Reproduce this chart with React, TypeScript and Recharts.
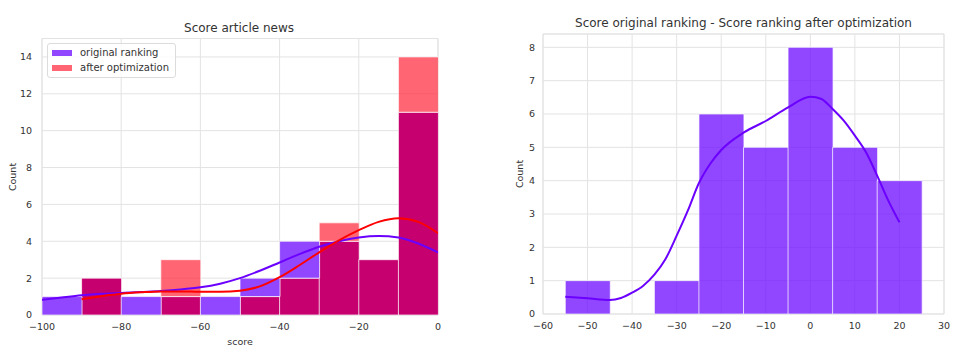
import { Bar, CartesianGrid, ComposedChart, Line, ReferenceArea, XAxis, YAxis } from "recharts"

// left chart: score histogram, bins of width 10
const leftBinStarts = [-100, -90, -80, -70, -60, -50, -40, -30, -20, -10]
const originalCounts = [1, 2, 1, 1, 1, 2, 4, 4, 3, 11]
const afterCounts = [0, 2, 0, 3, 0, 1, 2, 5, 3, 14]
const leftTicksX = [-100, -80, -60, -40, -20, 0]
const leftTicksY = [0, 2, 4, 6, 8, 10, 12, 14]

// kde curves
const originalKde = [
  { x: -100, y: 0.82 }, { x: -95, y: 0.95 }, { x: -90, y: 1.07 }, { x: -85, y: 1.15 },
  { x: -80, y: 1.2 }, { x: -75, y: 1.25 }, { x: -70, y: 1.3 }, { x: -65, y: 1.38 },
  { x: -60, y: 1.5 }, { x: -55, y: 1.7 }, { x: -50, y: 2.0 }, { x: -45, y: 2.4 },
  { x: -40, y: 2.85 }, { x: -35, y: 3.3 }, { x: -30, y: 3.7 }, { x: -25, y: 4.0 },
  { x: -20, y: 4.2 }, { x: -15, y: 4.28 }, { x: -10, y: 4.2 }, { x: -5, y: 3.88 },
  { x: 0, y: 3.4 },
]
const afterKde = [
  { x: -90, y: 0.86 }, { x: -85, y: 1.02 }, { x: -80, y: 1.15 }, { x: -75, y: 1.23 },
  { x: -70, y: 1.28 }, { x: -65, y: 1.28 }, { x: -60, y: 1.26 }, { x: -55, y: 1.26 },
  { x: -50, y: 1.32 }, { x: -45, y: 1.55 }, { x: -40, y: 2.05 }, { x: -35, y: 2.7 },
  { x: -30, y: 3.4 }, { x: -25, y: 4.05 }, { x: -20, y: 4.6 }, { x: -15, y: 5.05 },
  { x: -10, y: 5.25 }, { x: -5, y: 5.05 }, { x: 0, y: 4.44 },
]

// right chart: difference histogram
const rightBinStarts = [-55, -45, -35, -25, -15, -5, 5, 15]
const diffCounts = [1, 0, 1, 6, 5, 8, 5, 4]
const rightTicksX = [-60, -50, -40, -30, -20, -10, 0, 10, 20, 30]
const rightTicksY = [0, 1, 2, 3, 4, 5, 6, 7, 8]
const diffKde = [
  { x: -55, y: 0.52 }, { x: -50, y: 0.47 }, { x: -45, y: 0.42 }, { x: -42.5, y: 0.48 },
  { x: -40, y: 0.64 }, { x: -37.5, y: 0.85 }, { x: -35, y: 1.18 }, { x: -32.5, y: 1.65 },
  { x: -30, y: 2.35 }, { x: -27.5, y: 3.1 }, { x: -25, y: 3.93 }, { x: -22.5, y: 4.5 },
  { x: -20, y: 4.92 }, { x: -15, y: 5.44 }, { x: -10, y: 5.79 }, { x: -5, y: 6.2 },
  { x: 0, y: 6.52 }, { x: 2.5, y: 6.45 }, { x: 5, y: 6.15 }, { x: 7.5, y: 5.8 },
  { x: 10, y: 5.35 }, { x: 12.5, y: 4.85 }, { x: 15, y: 4.15 }, { x: 17.5, y: 3.4 },
  { x: 20, y: 2.75 },
]

const FONT = "'DejaVu Sans', sans-serif"
const TEXT = "#333333"
const GRID = "#e3e3e3"
const PURPLE = "#6c0aff"
const RED = "#ff2437"
const OVERLAP = "#c6006f"

const minus = (v: number) => String(v).replace("-", "\u2212")
const tickStyle = { fontSize: 9.5, fill: TEXT, fontFamily: FONT }

const leftData = leftBinStarts.map((start, i) => ({
  bin: start,
  shared: Math.min(originalCounts[i], afterCounts[i]),
  origOnly: Math.max(0, originalCounts[i] - afterCounts[i]),
  afterOnly: Math.max(0, afterCounts[i] - originalCounts[i]),
}))

const rightData = rightBinStarts.map((start, i) => ({ bin: start, count: diffCounts[i] }))

function LegendBox() {
  const rows = [
    { label: "original ranking", color: PURPLE, opacity: 0.75 },
    { label: "after optimization", color: RED, opacity: 0.7 },
  ]
  return (
    <div style={{
      position: "absolute", left: 47, top: 43,
      border: "1px solid #dcdcdc", borderRadius: 3, background: "rgba(255,255,255,0.8)",
      padding: "2px 6px 2px 4px", fontFamily: FONT, fontSize: 10, color: TEXT, lineHeight: "14.5px",
    }}>
      {rows.map(r => (
        <div key={r.label} style={{ display: "flex", alignItems: "center", whiteSpace: "nowrap" }}>
          <span style={{ display: "inline-block", width: 20, height: 6, background: r.color, opacity: r.opacity, marginRight: 8 }} />
          {r.label}
        </div>
      ))}
    </div>
  )
}

const label = (text: string, left: number, top: number, size: number, rotate = false) => (
  <div style={{
    position: "absolute", left, top, fontFamily: FONT, fontSize: size, color: TEXT, whiteSpace: "nowrap",
    transform: `translate(-50%, -50%)${rotate ? " rotate(-90deg)" : ""}`,
  }}>{text}</div>
)

export default function App() {
  const rightPlotWidth = 483 - 33 - 20 - 29
  const pad = rightPlotWidth * 5 / 90
  return (
    <div style={{ position: "absolute", left: 0, top: 0, width: 973, height: 357, background: "#fff" }}>
      <div style={{ position: "absolute", left: 0, top: 0 }}>
        <ComposedChart width={480} height={357} data={leftData} barCategoryGap={0} barGap={0}
          margin={{ top: 38.5, right: 42, bottom: 14, left: 12 }}>
          <CartesianGrid xAxisId="num" stroke={GRID} />
          <XAxis xAxisId="num" dataKey="x" type="number" domain={[-100, 0]} ticks={leftTicksX}
            allowDataOverflow tickFormatter={minus} tick={tickStyle} tickLine={false} axisLine={false}
            tickSize={0} tickMargin={8} height={28} />
          <XAxis xAxisId="cat" dataKey="bin" type="category" hide height={0} />
          <YAxis domain={[0, 15]} ticks={leftTicksY} allowDataOverflow tick={tickStyle} tickLine={false}
            axisLine={false} tickSize={0} tickMargin={10} width={30} />
          <ReferenceArea xAxisId="num" x1={-100} x2={0} y1={0} y2={15} fill="none" stroke={GRID} />
          <Bar xAxisId="cat" dataKey="shared" stackId="h" fill={OVERLAP} stroke="#fff" strokeOpacity={0.7} isAnimationActive={false} />
          <Bar xAxisId="cat" dataKey="origOnly" stackId="h" fill={PURPLE} fillOpacity={0.75} stroke="#fff" strokeOpacity={0.7} isAnimationActive={false} />
          <Bar xAxisId="cat" dataKey="afterOnly" stackId="h" fill={RED} fillOpacity={0.7} stroke="#fff" strokeOpacity={0.7} isAnimationActive={false} />
          <Line xAxisId="num" data={originalKde} dataKey="y" type="monotone" stroke="#6b00ff" strokeWidth={2} dot={false} isAnimationActive={false} />
          <Line xAxisId="num" data={afterKde} dataKey="y" type="monotone" stroke="#ff0000" strokeWidth={2} dot={false} isAnimationActive={false} />
        </ComposedChart>
      </div>
      <LegendBox />
      {label("Score article news", 239, 27.5, 12)}
      {label("score", 240, 340.5, 9.5)}
      {label("Count", 11.5, 177, 9.5, true)}

      <div style={{ position: "absolute", left: 490, top: 0 }}>
        <ComposedChart width={483} height={357} data={rightData} barCategoryGap={0} barGap={0}
          margin={{ top: 34, right: 29, bottom: 15, left: 33 }}>
          <CartesianGrid xAxisId="num" stroke={GRID} />
          <XAxis xAxisId="num" dataKey="x" type="number" domain={[-60, 30]} ticks={rightTicksX}
            allowDataOverflow tickFormatter={minus} tick={tickStyle} tickLine={false} axisLine={false}
            tickSize={0} tickMargin={8} height={28} />
          <XAxis xAxisId="cat" dataKey="bin" type="category" hide height={0} padding={{ left: pad, right: pad }} />
          <YAxis domain={[0, 8.4]} ticks={rightTicksY} allowDataOverflow tick={tickStyle} tickLine={false}
            axisLine={false} tickSize={0} tickMargin={8} width={20} />
          <ReferenceArea xAxisId="num" x1={-60} x2={30} y1={0} y2={8.4} fill="none" stroke={GRID} />
          <Bar xAxisId="cat" dataKey="count" fill={PURPLE} fillOpacity={0.75} stroke="#fff" strokeOpacity={0.7} isAnimationActive={false} />
          <Line xAxisId="num" data={diffKde} dataKey="y" type="monotone" stroke="#6b00ff" strokeWidth={2} dot={false} isAnimationActive={false} />
        </ComposedChart>
      </div>
      {label("Score original ranking - Score ranking after optimization", 743.5, 23, 12)}
      {label("Count", 518.5, 174, 9.5, true)}
    </div>
  )
}
